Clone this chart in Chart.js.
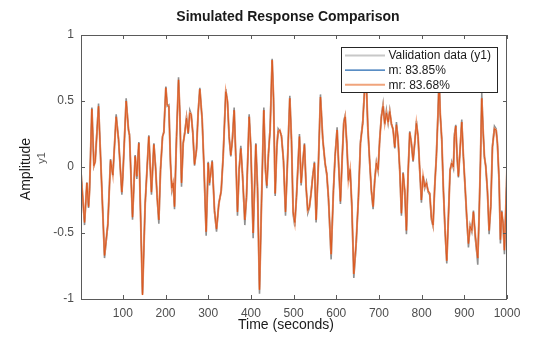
<!DOCTYPE html>
<html lang="en">
<head>
  <meta charset="UTF-8">
  <title>Simulated Response Comparison</title>
  <script src="https://cdn.jsdelivr.net/npm/chart.js"></script>
  <style>
    html, body { margin: 0; padding: 0; background: #fff; }
  </style>
</head>
<body>
  <canvas id="myChart" width="560" height="337"></canvas>

  <script>
    // time axis (seconds) - at the turning points
    const tSec = [
      2, 10.3, 15.8, 19.7, 22, 27.5, 32.2, 35.3, 43.1, 57.1,
      64.9, 71.2, 76.6, 84.4, 89.9, 97.7, 100, 107.8, 113.3, 115.6,
      122.7, 128.9, 132.8, 137.5, 146.1, 152.3, 160.9, 167.1, 172.7, 176.6,
      180.5, 184.4, 188.3, 193, 196.1, 200.8, 203.9, 207.8, 211.7, 214.8,
      218, 221.1, 225.8, 230.5, 233.6, 237.5, 241.4, 245.3, 249.2, 253.1,
      257, 260.1, 264, 268, 272.6, 276.5, 280.4, 285.9, 289.8, 295.2,
      300, 303, 309.3, 314.8, 319.5, 324.9, 330.4, 335.1, 341.3, 345.2,
      349.1, 353, 356.9, 360.8, 364.7, 368.6, 372.5, 376.4, 380.3, 385.8,
      389.7, 396, 399.9, 405.3, 411.6, 415.5, 420.2, 424.8, 430.3, 434.2,
      437.3, 441.2, 445.1, 449.8, 453, 456.9, 460.8, 463.9, 467.8, 471.7,
      476.4, 481.1, 485.7, 491.2, 495.1, 499, 502.9, 506.8, 509.9, 513.8,
      517.7, 521.6, 525.5, 529.4, 533.3, 537.2, 541.1, 545, 548.9, 552.8,
      558.3, 563, 568.5, 573.9, 577.8, 581.7, 588, 593.4, 597.3, 602,
      605.9, 609.8, 613.7, 617.6, 620.8, 624.7, 628.6, 632.5, 636.4, 641.1,
      646.5, 652, 656.7, 662.1, 666, 669.5, 674, 678.5, 682.4, 686.3,
      690.2, 694.1, 698, 701.9, 705.8, 709.7, 713.6, 717.5, 721.5, 725.3,
      729.2, 733.2, 737.1, 741, 744.9, 748.8, 752.7, 756.6, 760.5, 764.4,
      768.3, 772.2, 776.1, 780, 783.9, 787.8, 791.7, 795.6, 799.5, 803.4,
      807.3, 811.2, 815.1, 819, 822.9, 826.8, 830.7, 834.6, 838.5, 841,
      843.5, 847.2, 851.1, 855, 858.9, 862.8, 866.7, 870.6, 874.5, 876.9,
      880, 883.1, 886.2, 890.1, 894, 897.9, 901.9, 905.8, 909.7, 913.6,
      917.5, 921.4, 925.3, 929.2, 931.5, 934.6, 937.8, 940.9, 944, 947.1,
      950.3, 954.2, 958.1, 962, 965.9, 970.6, 974.5, 977.6, 981.5, 984.6,
      987.7, 990.9, 994, 997.9, 1000
    ];

    // measured output (gray)
    const yValid = [
      -0.03, -0.44, -0.12, -0.31, -0.18, 0.45, 0.01, 0.05, 0.48, -0.69,
      -0.44, 0.06, -0.07, 0.40, 0.21, -0.21, -0.07, 0.52, 0.28, 0.25,
      -0.40, 0.09, -0.09, 0.19, -0.96, -0.28, 0.24, -0.21, 0.18, 0.01,
      -0.24, -0.43, -0.02, 0.23, 0.27, 0.61, 0.46, 0.47, 0.02, -0.18,
      -0.13, -0.32, 0.22, 0.68, 0.40, -0.15, 0.18, 0.27, 0.38, 0.25,
      0.43, 0.40, 0.25, 0.01, 0.14, 0.42, 0.60, 0.35, 0.02, -0.52,
      0.04, -0.14, 0.05, -0.34, -0.49, -0.27, -0.19, 0.09, 0.59, 0.49,
      0.22, 0.08, 0.23, 0.45, 0.07, -0.37, -0.02, 0.16, -0.06, -0.44,
      -0.23, 0.40, 0.14, -0.54, 0.18, -0.16, -0.96, -0.27, 0.45, -0.03,
      -0.16, 0.11, 0.30, 0.82, 0.52, -0.22, 0.16, 0.29, 0.27, 0.24,
      0.04, -0.37, 0.04, 0.54, 0.20, -0.36, -0.45, -0.22, -0.01, 0.25,
      -0.14, 0.04, 0.18, -0.16, -0.35, -0.31, -0.19, -0.06, 0.04, -0.42,
      0.04, 0.55, 0.20, 0.02, -0.06, -0.24, -0.70, -0.17, 0.09, 0.30,
      -0.01, -0.28, 0.06, 0.35, 0.39, 0.17, -0.11, -0.01, -0.30, -0.84,
      -0.60, -0.22, 0.19, 0.35, 0.58, 0.74, 0.29, 0.02, -0.19, -0.32,
      -0.09, 0.04, -0.03, 0.22, 0.39, 0.48, 0.32, 0.43, 0.33, 0.43,
      0.32, 0.29, 0.14, 0.34, 0.20, -0.03, -0.37, -0.04, -0.19, -0.51,
      -0.04, 0.27, 0.17, 0.04, 0.19, 0.35, 0.22, -0.03, -0.27, -0.06,
      -0.16, -0.11, -0.19, -0.21, -0.40, -0.45, -0.14, 0.09, 0.43, 0.69,
      0.40, 0.20, -0.19, -0.50, -0.73, -0.36, -0.03, 0.04, -0.01, 0.25,
      0.32, 0.07, -0.08, 0.14, 0.36, 0.07, -0.16, -0.40, -0.61, -0.44,
      -0.49, -0.33, -0.53, -0.65, -0.74, -0.36, 0.04, 0.56, 0.27, 0.07,
      0.01, -0.19, -0.51, -0.29, 0.16, 0.31, 0.29, 0.17, -0.11, -0.58,
      -0.33, -0.45, -0.66, -0.24, -0.01
    ];

    // model m (blue)
    const yM = [
      -0.05, -0.42, -0.12, -0.30, -0.18, 0.44, 0.01, 0.04, 0.46, -0.67,
      -0.43, 0.05, -0.06, 0.38, 0.21, -0.19, -0.07, 0.50, 0.28, 0.24,
      -0.38, 0.08, -0.07, 0.18, -0.96, -0.28, 0.23, -0.19, 0.17, 0.00,
      -0.23, -0.40, -0.02, 0.23, 0.26, 0.60, 0.47, 0.46, 0.03, -0.16,
      -0.12, -0.30, 0.23, 0.66, 0.41, -0.12, 0.18, 0.26, 0.37, 0.26,
      0.41, 0.40, 0.26, 0.02, 0.13, 0.41, 0.59, 0.36, 0.03, -0.49,
      0.03, -0.12, 0.04, -0.33, -0.47, -0.28, -0.18, 0.08, 0.57, 0.50,
      0.23, 0.09, 0.21, 0.43, 0.08, -0.34, -0.02, 0.14, -0.05, -0.40,
      -0.23, 0.38, 0.15, -0.50, 0.17, -0.15, -0.92, -0.28, 0.43, -0.02,
      -0.14, 0.10, 0.28, 0.80, 0.53, -0.20, 0.15, 0.27, 0.28, 0.23,
      0.05, -0.34, 0.03, 0.52, 0.21, -0.34, -0.42, -0.23, -0.02, 0.23,
      -0.12, 0.03, 0.17, -0.15, -0.33, -0.30, -0.20, -0.07, 0.03, -0.40,
      0.03, 0.53, 0.21, 0.03, -0.05, -0.23, -0.65, -0.18, 0.08, 0.28,
      0.00, -0.26, 0.05, 0.33, 0.38, 0.18, -0.10, -0.02, -0.28, -0.80,
      -0.58, -0.23, 0.18, 0.33, 0.56, 0.72, 0.30, 0.03, -0.18, -0.30,
      -0.10, 0.03, -0.02, 0.21, 0.38, 0.46, 0.33, 0.41, 0.34, 0.42,
      0.33, 0.28, 0.15, 0.32, 0.21, -0.02, -0.35, -0.05, -0.18, -0.48,
      -0.05, 0.26, 0.18, 0.05, 0.18, 0.33, 0.23, -0.02, -0.25, -0.07,
      -0.15, -0.12, -0.18, -0.20, -0.38, -0.44, -0.15, 0.08, 0.41, 0.66,
      0.41, 0.21, -0.18, -0.48, -0.70, -0.38, -0.02, 0.03, 0.00, 0.23,
      0.31, 0.08, -0.07, 0.13, 0.34, 0.08, -0.15, -0.38, -0.58, -0.45,
      -0.48, -0.34, -0.50, -0.63, -0.69, -0.38, 0.03, 0.52, 0.28, 0.08,
      0.00, -0.18, -0.48, -0.30, 0.15, 0.29, 0.28, 0.18, -0.10, -0.55,
      -0.34, -0.43, -0.63, -0.25, -0.02
    ];

    // model mr (orange)
    const yMr = [
      -0.05, -0.42, -0.12, -0.30, -0.18, 0.44, 0.01, 0.04, 0.46, -0.67,
      -0.43, 0.05, -0.06, 0.38, 0.21, -0.19, -0.07, 0.50, 0.28, 0.24,
      -0.38, 0.08, -0.07, 0.18, -0.97, -0.28, 0.23, -0.19, 0.17, 0.00,
      -0.23, -0.40, -0.02, 0.23, 0.26, 0.60, 0.47, 0.46, 0.03, -0.16,
      -0.12, -0.30, 0.23, 0.66, 0.41, -0.12, 0.18, 0.26, 0.37, 0.26,
      0.41, 0.40, 0.26, 0.02, 0.13, 0.41, 0.59, 0.36, 0.03, -0.49,
      0.03, -0.12, 0.04, -0.33, -0.47, -0.28, -0.18, 0.08, 0.57, 0.50,
      0.23, 0.09, 0.21, 0.43, 0.08, -0.34, -0.02, 0.14, -0.05, -0.40,
      -0.23, 0.38, 0.15, -0.50, 0.17, -0.15, -0.93, -0.28, 0.43, -0.02,
      -0.14, 0.10, 0.28, 0.81, 0.53, -0.20, 0.15, 0.27, 0.28, 0.23,
      0.05, -0.34, 0.03, 0.52, 0.21, -0.34, -0.42, -0.23, -0.02, 0.23,
      -0.12, 0.03, 0.17, -0.15, -0.33, -0.30, -0.20, -0.07, 0.03, -0.40,
      0.03, 0.53, 0.21, 0.03, -0.05, -0.23, -0.66, -0.18, 0.08, 0.28,
      0.00, -0.26, 0.05, 0.33, 0.38, 0.18, -0.10, -0.02, -0.28, -0.81,
      -0.58, -0.23, 0.18, 0.33, 0.56, 0.72, 0.30, 0.03, -0.18, -0.30,
      -0.10, 0.03, -0.02, 0.21, 0.38, 0.46, 0.33, 0.41, 0.34, 0.42,
      0.33, 0.28, 0.15, 0.32, 0.21, -0.02, -0.35, -0.05, -0.18, -0.48,
      -0.05, 0.26, 0.18, 0.05, 0.18, 0.33, 0.23, -0.02, -0.25, -0.07,
      -0.15, -0.12, -0.18, -0.20, -0.38, -0.44, -0.15, 0.08, 0.41, 0.66,
      0.41, 0.21, -0.18, -0.48, -0.71, -0.38, -0.02, 0.03, 0.00, 0.23,
      0.31, 0.08, -0.07, 0.13, 0.34, 0.08, -0.15, -0.38, -0.58, -0.45,
      -0.48, -0.34, -0.50, -0.63, -0.69, -0.38, 0.03, 0.52, 0.28, 0.08,
      0.00, -0.18, -0.48, -0.30, 0.15, 0.29, 0.28, 0.18, -0.10, -0.55,
      -0.34, -0.43, -0.63, -0.25, -0.02
    ];

    const xTicks = [100, 200, 300, 400, 500, 600, 700, 800, 900, 1000];
    const yTicks = [-1, -0.5, 0, 0.5, 1];
    const legendLabels = ['Validation data (y1)', 'm: 83.85%', 'mr: 83.68%'];

    const FONT = "'Liberation Sans', Arial, Helvetica, sans-serif";
    const AXIS_COLOR = '#5a5a5a';

    const pts = ys => tSec.map((t, i) => ({ x: t, y: ys[i] }));

    // frame, inward ticks, titles and boxed legend, MATLAB style
    const decor = {
      id: 'decor',
      afterDatasetsDraw(chart) {
        const { ctx, chartArea: a, scales } = chart;

        // dark core on top of the light orange mr line
        const mrLine = chart.getDatasetMeta(2).dataset;
        const oldOpts = mrLine.options;
        ctx.save();
        ctx.beginPath();
        ctx.rect(a.left, a.top, a.right - a.left, a.bottom - a.top);
        ctx.clip();
        mrLine.options = Object.assign({}, oldOpts, { borderColor: '#d95319', borderWidth: 0.9 });
        mrLine.draw(ctx, a);
        mrLine.options = oldOpts;
        ctx.restore();

        ctx.save();
        ctx.strokeStyle = AXIS_COLOR;
        ctx.lineWidth = 1;
        ctx.strokeRect(Math.round(a.left) + 0.5, Math.round(a.top) + 0.5,
          Math.round(a.right - a.left) - 1, Math.round(a.bottom - a.top));
        ctx.beginPath();
        xTicks.forEach(v => {
          const x = Math.round(scales.x.getPixelForValue(v)) + 0.5;
          ctx.moveTo(x, a.bottom); ctx.lineTo(x, a.bottom - 4);
          ctx.moveTo(x, a.top); ctx.lineTo(x, a.top + 4);
        });
        yTicks.forEach(v => {
          const y = Math.round(scales.y.getPixelForValue(v)) + 0.5;
          ctx.moveTo(a.left, y); ctx.lineTo(a.left + 4, y);
          ctx.moveTo(a.right, y); ctx.lineTo(a.right - 4, y);
        });
        ctx.stroke();

        // legend box
        const lx = Math.round(a.right) - 165.5, ly = Math.round(a.top) + 12.5;
        const lw = 156, lh = 45;
        ctx.fillStyle = '#fff';
        ctx.fillRect(lx, ly, lw, lh);
        ctx.strokeStyle = '#262626';
        ctx.strokeRect(lx, ly, lw, lh);
        const cols = ['#c8c8c8', '#2267b0', '#f0a47c'];
        const widths = [2, 1.2, 2];
        ctx.font = '12px ' + FONT;
        ctx.textBaseline = 'middle';
        legendLabels.forEach((txt, i) => {
          const yy = ly + 8 + i * 14.6;
          ctx.strokeStyle = cols[i];
          ctx.lineWidth = widths[i];
          ctx.beginPath();
          ctx.moveTo(lx + 3.5, yy); ctx.lineTo(lx + 43.5, yy);
          ctx.stroke();
          ctx.fillStyle = '#1a1a1a';
          ctx.fillText(txt, lx + 47, yy + 0.5);
        });

        // titles
        ctx.fillStyle = '#1a1a1a';
        ctx.textAlign = 'center';
        ctx.textBaseline = 'middle';
        ctx.font = 'bold 14px ' + FONT;
        ctx.fillText('Simulated Response Comparison', 288, 17);
        ctx.font = '14px ' + FONT;
        ctx.fillText('Time (seconds)', 286, 325);
        ctx.save();
        ctx.translate(26, 169);
        ctx.rotate(-Math.PI / 2);
        ctx.fillText('Amplitude', 0, 0);
        ctx.restore();
        ctx.save();
        ctx.translate(42, 158);
        ctx.rotate(-Math.PI / 2);
        ctx.fillStyle = '#555';
        ctx.font = '11px ' + FONT;
        ctx.fillText('y1', 0, 0);
        ctx.restore();
        ctx.restore();
      }
    };

    const ctx = document.getElementById('myChart').getContext('2d');
    const myChart = new Chart(ctx, {
      type: 'line',
      data: {
        datasets: [
          {
            label: legendLabels[0],
            data: pts(yValid),
            borderColor: '#8f8f8f',
            borderWidth: 1.6,
            order: 2
          },
          {
            label: legendLabels[1],
            data: pts(yM),
            borderColor: '#2267b0',
            borderWidth: 1,
            order: 1
          },
          {
            label: legendLabels[2],
            data: pts(yMr),
            borderColor: 'rgba(240, 150, 108, 0.9)',
            borderWidth: 2,
            order: 0
          }
        ]
      },
      options: {
        responsive: false,
        animation: false,
        devicePixelRatio: 1,
        layout: { padding: { top: 35, right: 53, left: 0, bottom: 0 } },
        elements: { point: { radius: 0 }, line: { tension: 0 } },
        plugins: {
          legend: { display: false },
          title: { display: false },
          tooltip: { enabled: false }
        },
        scales: {
          x: {
            type: 'linear',
            min: 2,
            max: 1000,
            afterFit: s => { s.height = 38; },
            afterBuildTicks: s => { s.ticks = xTicks.map(v => ({ value: v })); },
            grid: { display: false, drawTicks: false },
            border: { display: false },
            ticks: {
              color: '#4d4d4d',
              font: { family: FONT, size: 12 },
              padding: 7,
              maxRotation: 0,
              callback: v => String(v)
            }
          },
          y: {
            type: 'linear',
            min: -1,
            max: 1,
            afterFit: s => { s.width = 81; },
            afterBuildTicks: s => { s.ticks = yTicks.map(v => ({ value: v })); },
            grid: { display: false, drawTicks: false },
            border: { display: false },
            ticks: {
              color: '#4d4d4d',
              font: { family: FONT, size: 12 },
              padding: 7,
              callback: v => String(v)
            }
          }
        }
      },
      plugins: [decor]
    });
  </script>
</body>
</html>
